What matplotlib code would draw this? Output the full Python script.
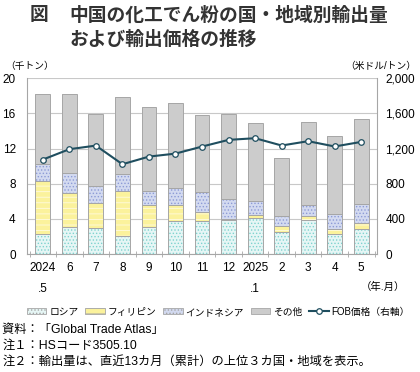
import matplotlib.pyplot as plt
import numpy as np

plt.rcParams['font.family'] = ['Liberation Sans', 'Noto Sans CJK JP']

# 輸出量（千トン）
mois = ['2024\n.5', '6', '7', '8', '9', '10', '11', '12', '2025\n.1', '2', '3', '4', '5']
russie = [2.24, 3.11, 2.92, 2.05, 3.04, 3.72, 3.76, 3.85, 4.08, 2.49, 3.85, 2.23, 2.87]
philippines = [6.03, 3.87, 2.85, 5.08, 2.58, 1.82, 1.02, 0.15, 0.34, 0.72, 0.45, 0.64, 0.64]
indonesie = [1.98, 2.20, 1.93, 2.02, 1.59, 1.97, 2.24, 2.26, 1.66, 1.09, 1.32, 1.66, 2.23]
autres = [8.00, 8.96, 8.20, 8.76, 9.53, 9.64, 8.77, 9.66, 8.79, 6.64, 9.44, 8.90, 9.66]
# FOB価格（米ドル/トン）
prix_fob = [1074, 1192, 1233, 1021, 1108, 1142, 1222, 1298, 1317, 1234, 1283, 1223, 1275]

fig = plt.figure(figsize=(4.2, 3.72), dpi=100)
ax = fig.add_axes([0.064, 0.317, 0.834, 0.473])
x = np.arange(len(mois))
w = 0.56
gris = '#a6a6a6'

series = [
    (russie, '#e6f6f5', '#7fd3cf', '.....', 'ロシア'),
    (philippines, '#fbf29c', '#fffbe0', '---', 'フィリピン'),
    (indonesie, '#d3daf0', '#8d9bd6', '.....', 'インドネシア'),
    (autres, '#cccccc', '#cccccc', '', 'その他'),
]
plt.rcParams['hatch.linewidth'] = 0.6
bas = np.zeros(len(mois))
handles = []
for vals, fc, hc, hatch, nom in series:
    ax.bar(x, vals, w, bottom=bas, color=fc, edgecolor=hc, hatch=hatch, linewidth=0, zorder=2)
    ax.bar(x, vals, w, bottom=bas, color='none', edgecolor=gris, linewidth=0.7, zorder=3)
    bas += np.array(vals)
    # proxy pour la légende
    handles.append(plt.Rectangle((0, 0), 1, 1, facecolor=fc, edgecolor=gris, hatch=hatch, linewidth=0.6, label=nom))

ax.set_ylim(0, 20)
ax.set_yticks([0, 4, 8, 12, 16, 20])
ax.set_xlim(-0.6, len(mois) - 0.4)
ax.set_xticks(x)
ax.set_xticklabels(mois, fontsize=8.5, linespacing=1.9, va='top')
ax.set_xticks(np.arange(len(mois) + 1) - 0.5, minor=True)
ax.tick_params(axis='x', which='major', length=0, pad=6)
ax.tick_params(axis='x', which='minor', length=5, color=gris, direction='inout')
ax.tick_params(axis='y', length=0, labelsize=8.5, pad=8)
ax.grid(axis='y', color='#c8c8c8', linewidth=0.8, zorder=0)
ax.set_axisbelow(True)
ax.spines['top'].set_visible(False)
for s in ['left', 'right', 'bottom']:
    ax.spines[s].set_color(gris)

ax2 = ax.twinx()
ligne, = ax2.plot(x, prix_fob, color='#1f4e5f', linewidth=1.5, marker='o', markersize=4,
                  markerfacecolor='white', markeredgecolor='#1f4e5f', markeredgewidth=0.9,
                  zorder=5, label='FOB価格（右軸）')
ax2.set_ylim(0, 2000)
ax2.set_yticks([0, 400, 800, 1200, 1600, 2000])
ax2.set_yticklabels(['0', '400', '800', '1,200', '1,600', '2,000'])
ax2.tick_params(axis='y', length=0, labelsize=8.5, pad=6)
for s in ax2.spines.values():
    s.set_visible(False)
handles.append(ligne)

fig.text(0.07, 0.958, '図', fontsize=13.5, fontweight='bold', color='#333333', va='center')
fig.text(0.165, 0.958, '中国の化工でん粉の国・地域別輸出量', fontsize=13.5, fontweight='bold',
         color='#333333', va='center')
fig.text(0.165, 0.892, 'および輸出価格の推移', fontsize=13.5, fontweight='bold',
         color='#333333', va='center')
fig.text(0.012, 0.822, '（千トン）', fontsize=7, va='center')
fig.text(0.99, 0.822, '（米ドル/トン）', fontsize=7, va='center', ha='right')
fig.text(0.965, 0.228, '（年.月）', fontsize=7.5, va='center', ha='right')

fig.legend(handles=handles, loc='center', bbox_to_anchor=(0.52, 0.162), ncol=5, frameon=False,
           fontsize=7, handlelength=2.0, handleheight=0.6, handletextpad=0.3, columnspacing=0.7)

notes = ['資料：「Global Trade Atlas」', '注１：HSコード3505.10',
         '注２：輸出量は、直近13カ月（累計）の上位３カ国・地域を表示。']
for i, t in enumerate(notes):
    fig.text(0.005, 0.113 - i * 0.043, t, fontsize=8.8, va='center')

fig.savefig('out.png', dpi=100)
